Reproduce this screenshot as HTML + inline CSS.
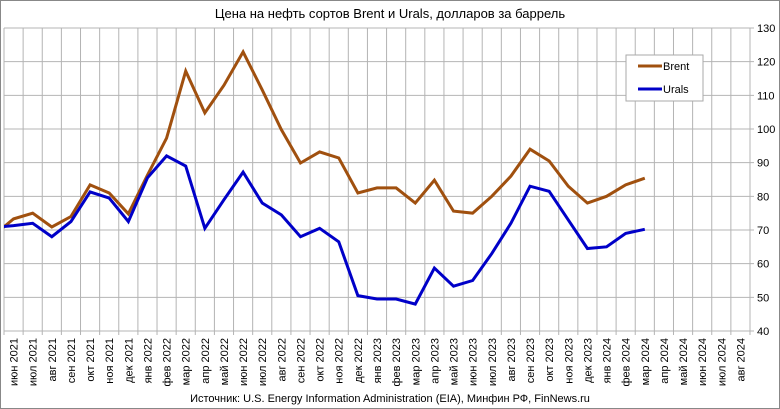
<!DOCTYPE html>
<html><head><meta charset="utf-8"><style>
body{margin:0;background:#fff}
svg{display:block;font-family:"Liberation Sans",sans-serif}
</style></head><body>
<svg id="chart" width="780" height="409" viewBox="0 0 780 409">
<rect x="0.5" y="0.5" width="779" height="408" fill="#fff" stroke="#888"/>
<text x="390" y="18" text-anchor="middle" font-size="13" fill="#000">Цена на нефть сортов Brent и Urals, долларов за баррель</text>
<g id="grid"></g><g id="xlabels"></g><g id="ylabels"></g><g id="series"></g>
<g>
<rect x="626" y="55" width="77" height="46" fill="#fff" stroke="#aaa"/>
<line x1="638" y1="66" x2="662" y2="66" stroke="#A0500F" stroke-width="3"/>
<text x="663" y="70" font-size="11">Brent</text>
<line x1="638" y1="89" x2="662" y2="89" stroke="#0000C8" stroke-width="3"/>
<text x="663" y="93" font-size="11">Urals</text>
</g>
<text x="390" y="402" text-anchor="middle" font-size="11" fill="#000">Источник: U.S. Energy Information Administration (EIA), Минфин РФ, FinNews.ru</text>
</svg>
<script>
const categories=["июн 2021","июл 2021","авг 2021","сен 2021","окт 2021","ноя 2021","дек 2021","янв 2022","фев 2022","мар 2022","апр 2022","май 2022","июн 2022","июл 2022","авг 2022","сен 2022","окт 2022","ноя 2022","дек 2022","янв 2023","фев 2023","мар 2023","апр 2023","май 2023","июн 2023","июл 2023","авг 2023","сен 2023","окт 2023","ноя 2023","дек 2023","янв 2024","фев 2024","мар 2024","апр 2024","май 2024","июн 2024","июл 2024","авг 2024"];
const brentPrev=68.6;
const uralsPrev=70.8;
const brent=[73.3,75,70.9,74,83.4,81,74.8,86.3,97.3,117.2,104.8,113,122.9,111.6,99.8,89.9,93.2,91.4,81,82.5,82.5,78,84.8,75.6,75,80,86,94,90.5,83,78,80,83.4,85.4];
const urals=[71.3,72,68,72.5,81.3,79.5,72.5,85.5,92,89,70.5,79,87.2,78,74.5,68,70.5,66.5,50.5,49.5,49.5,48,58.7,53.3,55,63,72,83,81.5,73,64.5,65,69,70.2];
const yTicks=[40,50,60,70,80,90,100,110,120,130];
const NS="http://www.w3.org/2000/svg";
const L=4,R=750,T=28,B=331,ymin=40,ymax=130;
const step=(R-L)/categories.length;
const x=i=>L+step*(i+0.5);
const y=v=>B-(v-ymin)/(ymax-ymin)*(B-T);
function mk(tag,attrs,parent){const e=document.createElementNS(NS,tag);for(const k in attrs)e.setAttribute(k,attrs[k]);document.getElementById(parent).appendChild(e);return e;}
yTicks.forEach(v=>{
 const l=mk('line',{x1:L,x2:R+4,y1:y(v),y2:y(v),stroke:'#b4b4b4','stroke-width':1},'grid');
 
 
 const t=mk('text',{x:757,y:y(v)+4,'font-size':11},'ylabels');
 t.textContent=v;
 
 
});
for(let i=0;i<=categories.length;i++){
 const l=mk('line',{x1:L+step*i,x2:L+step*i,y1:T,y2:B+4,stroke:'#b4b4b4','stroke-width':1},'grid');
 
 
}
categories.forEach((c,i)=>{
 const t=mk('text',{transform:`translate(${x(i)+4},${B+7}) rotate(-90)`,'text-anchor':'end','font-size':11},'xlabels');
 t.textContent=c;
 
 
});
mk('clipPath',{id:'clip'},'series');
mk('rect',{x:L,y:T-5,width:R-L,height:B-T+10},'series').remove();
const cp=document.getElementById('clip');
const cr=document.createElementNS(NS,'rect');cr.setAttribute('x',L);cr.setAttribute('y',0);cr.setAttribute('width',R-L);cr.setAttribute('height',409);cp.appendChild(cr);
function line(prev,data,color,name){
 const pts=[[x(-1),y(prev)]].concat(data.map((v,i)=>[x(i),y(v)]));
 const p=mk('polyline',{points:pts.map(p=>p.join(',')).join(' '),fill:'none',stroke:color,'stroke-width':3,'stroke-linejoin':'miter','clip-path':'url(#clip)'},'series');
 
 
}
line(brentPrev,brent,'#A0500F','brent-line');
line(uralsPrev,urals,'#0000C8','urals-line');
</script>
</body></html>
